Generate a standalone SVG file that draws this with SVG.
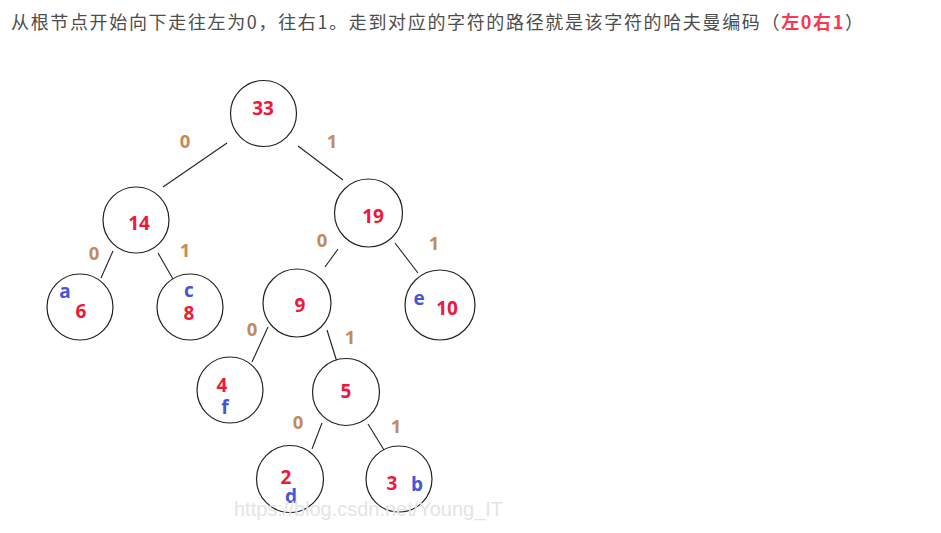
<svg xmlns="http://www.w3.org/2000/svg" width="941" height="533" viewBox="0 0 941 533">
<style>
.title{font-family:"Noto Sans CJK SC","Microsoft YaHei",sans-serif;font-size:18px;fill:#4d4d4d}
.hl{fill:#fc3550;font-weight:bold}
.node circle{fill:#fff;stroke:#222;stroke-width:1.2}
.num{font-family:"Open Sans","Noto Sans",sans-serif;font-weight:bold;font-size:19px;fill:#f0173a;text-anchor:middle}
.ch{font-family:"Open Sans","Noto Sans",sans-serif;font-weight:bold;font-size:19px;fill:#4656d6;text-anchor:middle}
.lbl{font-family:"Open Sans","Noto Sans",sans-serif;font-weight:bold;font-size:18.5px;fill:#c48a5e;text-anchor:middle}
.edges line{stroke:#222;stroke-width:1.1}
.wm{font-family:"Liberation Sans",Arial,sans-serif;font-size:20px;fill:#e4e4e4}
</style>
<rect width="941" height="533" fill="#fff"/>
<text class="title" x="11" y="29" textLength="852" lengthAdjust="spacing">从根节点开始向下走往左为0，往右1。走到对应的字符的路径就是该字符的哈夫曼编码（<tspan class="hl">左0右1</tspan>）</text>
<g class="edges">
<line x1="227" y1="143" x2="163" y2="187"/>
<line x1="298" y1="146" x2="343" y2="180"/>
<line x1="113" y1="251" x2="101" y2="278"/>
<line x1="158" y1="253" x2="173" y2="279"/>
<line x1="338" y1="249" x2="325" y2="267"/>
<line x1="395" y1="243" x2="418" y2="273"/>
<line x1="268" y1="327" x2="252" y2="362"/>
<line x1="327" y1="330" x2="337" y2="362"/>
<line x1="322" y1="423" x2="312" y2="449"/>
<line x1="368" y1="424" x2="384" y2="450"/>
</g>
<g class="labels">
<text class="lbl" x="185" y="148">0</text>
<text class="lbl" x="332" y="148">1</text>
<text class="lbl" x="94" y="260">0</text>
<text class="lbl" x="185" y="257">1</text>
<text class="lbl" x="322" y="247">0</text>
<text class="lbl" x="434" y="250">1</text>
<text class="lbl" x="252" y="336">0</text>
<text class="lbl" x="350" y="344">1</text>
<text class="lbl" x="298" y="429">0</text>
<text class="lbl" x="396" y="433">1</text>
</g>
<g id="n33" class="node"><circle cx="263.5" cy="113.5" r="33"/><text class="num" x="263" y="115">33</text></g>
<g id="n14" class="node"><circle cx="136" cy="220" r="33"/><text class="num" x="139" y="230">14</text></g>
<g id="n19" class="node"><circle cx="368.5" cy="213" r="34"/><text class="num" x="373" y="223">19</text></g>
<g id="na6" class="node"><circle cx="80" cy="307" r="33"/><text class="ch" x="65" y="298">a</text><text class="num" x="81" y="318">6</text></g>
<g id="nc8" class="node"><circle cx="190" cy="307" r="33"/><text class="ch" x="189" y="297">c</text><text class="num" x="189" y="320">8</text></g>
<g id="n9" class="node"><circle cx="297" cy="303" r="34"/><text class="num" x="300" y="312">9</text></g>
<g id="ne10" class="node"><circle cx="440" cy="305" r="35"/><text class="ch" x="419" y="305">e</text><text class="num" x="447" y="315">10</text></g>
<g id="nf4" class="node"><circle cx="230" cy="390" r="33"/><text class="num" x="222" y="392">4</text><text class="ch" x="225" y="414">f</text></g>
<g id="n5" class="node"><circle cx="346" cy="392" r="33.5"/><text class="num" x="346" y="398">5</text></g>
<g id="nd2" class="node"><circle cx="290" cy="479" r="33.5"/><text class="num" x="286" y="484">2</text><text class="ch" x="291" y="503">d</text></g>
<g id="nb3" class="node"><circle cx="399" cy="479" r="33"/><text class="num" x="392" y="490">3</text><text class="ch" x="417" y="491">b</text></g>
<text class="wm" x="234" y="516" textLength="269" lengthAdjust="spacingAndGlyphs">https://blog.csdn.net/Young_IT</text>
</svg>
